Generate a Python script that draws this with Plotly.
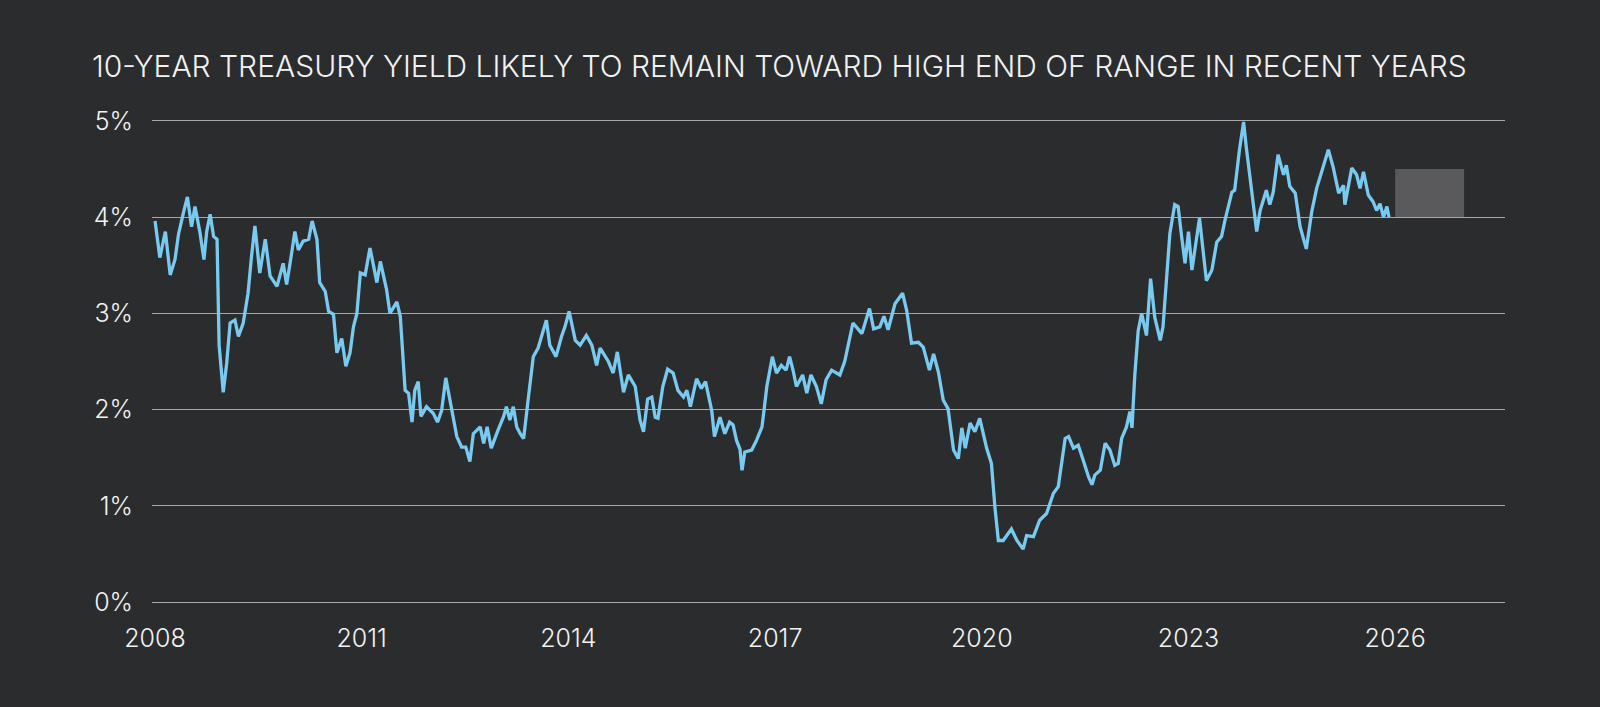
import plotly.graph_objects as go

# 10-year treasury yield (decimal year, percent)
years = [
    2008.00, 2008.07, 2008.15, 2008.22, 2008.29, 2008.34, 2008.41, 2008.47, 2008.53, 2008.58,
    2008.65, 2008.71, 2008.75, 2008.80, 2008.85, 2008.90, 2008.93, 2008.99, 2009.04, 2009.09,
    2009.16, 2009.21, 2009.28, 2009.35, 2009.40, 2009.45, 2009.52, 2009.60, 2009.67, 2009.77,
    2009.86, 2009.91, 2009.96, 2010.03, 2010.08, 2010.15, 2010.23, 2010.28, 2010.35, 2010.39,
    2010.47, 2010.52, 2010.59, 2010.64, 2010.71, 2010.77, 2010.83, 2010.88, 2010.93, 2010.98,
    2011.05, 2011.12, 2011.22, 2011.27, 2011.36, 2011.41, 2011.51, 2011.56, 2011.63, 2011.68,
    2011.73, 2011.77, 2011.82, 2011.86, 2011.94, 2012.04, 2012.10, 2012.16, 2012.22, 2012.31,
    2012.38, 2012.45, 2012.51, 2012.57, 2012.62, 2012.72, 2012.77, 2012.82, 2012.88, 2012.98,
    2013.06, 2013.10, 2013.15, 2013.20, 2013.25, 2013.30, 2013.35, 2013.42, 2013.49, 2013.56,
    2013.64, 2013.68, 2013.73, 2013.82, 2013.90, 2013.95, 2014.01, 2014.10, 2014.17, 2014.26,
    2014.34, 2014.41, 2014.46, 2014.58, 2014.65, 2014.71, 2014.80, 2014.87, 2014.97, 2015.04,
    2015.09, 2015.15, 2015.21, 2015.26, 2015.30, 2015.37, 2015.44, 2015.52, 2015.59, 2015.67,
    2015.72, 2015.77, 2015.86, 2015.93, 2015.99, 2016.08, 2016.12, 2016.20, 2016.27, 2016.34,
    2016.39, 2016.44, 2016.49, 2016.52, 2016.56, 2016.66, 2016.73, 2016.81, 2016.88, 2016.96,
    2017.02, 2017.09, 2017.16, 2017.21, 2017.26, 2017.31, 2017.40, 2017.46, 2017.52, 2017.60,
    2017.67, 2017.74, 2017.82, 2017.94, 2018.01, 2018.13, 2018.26, 2018.37, 2018.43, 2018.52,
    2018.58, 2018.64, 2018.74, 2018.85, 2018.91, 2018.98, 2019.08, 2019.15, 2019.24, 2019.30,
    2019.37, 2019.44, 2019.51, 2019.59, 2019.66, 2019.71, 2019.76, 2019.83, 2019.90, 2019.97,
    2020.07, 2020.14, 2020.19, 2020.24, 2020.31, 2020.43, 2020.51, 2020.60, 2020.65, 2020.75,
    2020.84, 2020.94, 2021.04, 2021.11, 2021.21, 2021.26, 2021.33, 2021.40, 2021.47, 2021.55,
    2021.60, 2021.64, 2021.72, 2021.79, 2021.86, 2021.93, 2021.98, 2022.03, 2022.10, 2022.15,
    2022.18, 2022.22, 2022.27, 2022.32, 2022.39, 2022.45, 2022.51, 2022.59, 2022.63, 2022.73,
    2022.80, 2022.85, 2022.90, 2022.95, 2023.00, 2023.05, 2023.16, 2023.21, 2023.26, 2023.34,
    2023.41, 2023.48, 2023.53, 2023.63, 2023.67, 2023.74, 2023.80, 2023.84, 2023.92, 2023.99,
    2024.04, 2024.13, 2024.18, 2024.23, 2024.30, 2024.38, 2024.42, 2024.47, 2024.55, 2024.62,
    2024.71, 2024.79, 2024.86, 2024.91, 2024.96, 2025.03, 2025.10, 2025.18, 2025.25, 2025.27,
    2025.37, 2025.44, 2025.49, 2025.54, 2025.61, 2025.68, 2025.73, 2025.78, 2025.83, 2025.88,
    2025.91,
]
yields = [
    3.96, 3.58, 3.85, 3.40, 3.56, 3.82, 4.04, 4.21, 3.90, 4.11,
    3.85, 3.56, 3.85, 4.03, 3.80, 3.77, 2.67, 2.18, 2.48, 2.90,
    2.93, 2.76, 2.90, 3.21, 3.59, 3.91, 3.42, 3.77, 3.39, 3.28,
    3.52, 3.30, 3.52, 3.85, 3.66, 3.75, 3.77, 3.96, 3.77, 3.32,
    3.23, 3.02, 2.99, 2.59, 2.74, 2.45, 2.59, 2.86, 3.00, 3.42,
    3.40, 3.68, 3.32, 3.54, 3.25, 3.00, 3.12, 2.97, 2.20, 2.17,
    1.87, 2.20, 2.29, 1.93, 2.03, 1.96, 1.87, 1.99, 2.33, 2.01,
    1.72, 1.61, 1.61, 1.46, 1.75, 1.82, 1.65, 1.82, 1.60, 1.79,
    1.93, 2.03, 1.89, 2.03, 1.82, 1.75, 1.70, 2.13, 2.55, 2.64,
    2.83, 2.93, 2.67, 2.55, 2.76, 2.86, 3.02, 2.72, 2.67, 2.77,
    2.67, 2.46, 2.64, 2.50, 2.38, 2.60, 2.18, 2.36, 2.24, 1.89,
    1.77, 2.11, 2.13, 1.92, 1.91, 2.24, 2.42, 2.38, 2.20, 2.13,
    2.20, 2.03, 2.32, 2.22, 2.29, 1.99, 1.72, 1.92, 1.75, 1.87,
    1.84, 1.68, 1.59, 1.37, 1.56, 1.58, 1.68, 1.82, 2.24, 2.55,
    2.38, 2.46, 2.41, 2.55, 2.41, 2.24, 2.36, 2.17, 2.36, 2.24,
    2.06, 2.31, 2.41, 2.36, 2.50, 2.90, 2.79, 3.05, 2.84, 2.86,
    2.97, 2.83, 3.10, 3.21, 3.03, 2.69, 2.70, 2.65, 2.41, 2.58,
    2.39, 2.10, 2.01, 1.58, 1.49, 1.81, 1.60, 1.86, 1.77, 1.91,
    1.60, 1.44, 0.99, 0.64, 0.64, 0.76, 0.64, 0.55, 0.69, 0.68,
    0.85, 0.92, 1.13, 1.20, 1.70, 1.72, 1.60, 1.63, 1.48, 1.30,
    1.22, 1.32, 1.37, 1.65, 1.58, 1.42, 1.44, 1.70, 1.82, 1.98,
    1.81, 2.35, 2.82, 3.00, 2.77, 3.36, 2.96, 2.72, 2.86, 3.83,
    4.13, 4.11, 3.80, 3.52, 3.85, 3.45, 3.99, 3.66, 3.34, 3.45,
    3.74, 3.80, 3.97, 4.26, 4.28, 4.70, 4.99, 4.72, 4.25, 3.85,
    4.07, 4.28, 4.13, 4.26, 4.65, 4.44, 4.54, 4.32, 4.25, 3.90,
    3.67, 4.06, 4.30, 4.42, 4.56, 4.70, 4.52, 4.25, 4.33, 4.13,
    4.51, 4.44, 4.30, 4.47, 4.23, 4.16, 4.07, 4.14, 4.00, 4.11,
    4.00,
]

# expected range for the coming year
forecast_years = [2026, 2027]
forecast_range = [4.0, 4.5]

tick_years = [2008, 2011, 2014, 2017, 2020, 2023, 2026]
tick_pcts = [0, 1, 2, 3, 4, 5]

BG = "#2b2c2e"
FONT = "Inter, 'Open Sans', Roboto, Arial, sans-serif"

fig = go.Figure()

# forecast box
fig.add_shape(
    type="rect", xref="x", yref="y",
    x0=forecast_years[0], x1=forecast_years[1],
    y0=forecast_range[0], y1=forecast_range[1],
    fillcolor="#5a5a5c", line={"width": 0}, layer="below",
)

fig.add_trace(go.Scatter(
    x=years, y=yields, mode="lines",
    line={"color": "#78caf0", "width": 3.3},
    hoverinfo="skip", showlegend=False,
))

fig.update_layout(
    width=1600, height=707,
    paper_bgcolor=BG, plot_bgcolor=BG,
    margin={"l": 152, "r": 95, "t": 119, "b": 103},
    font={"family": FONT, "color": "#f2f2f2", "size": 25, "weight": 300},
    title={
        "text": "10-YEAR TREASURY YIELD LIKELY TO REMAIN TOWARD HIGH END OF RANGE IN RECENT YEARS",
        "x": 92 / 1600, "xanchor": "left", "xref": "container",
        "y": 1 - 66 / 707, "yanchor": "middle", "yref": "container",
        "font": {"family": FONT, "size": 30, "color": "#f2f2f2", "weight": 300},
    },
)

fig.update_xaxes(
    range=[2007.956, 2027.594],
    tickvals=tick_years, ticktext=[str(y) for y in tick_years],
    showgrid=False, zeroline=False, showline=False, ticks="",
    ticklabelstandoff=17,
)
fig.update_yaxes(
    range=[-0.02, 5.02],
    tickvals=tick_pcts, ticktext=[f"{p}%" for p in tick_pcts],
    showgrid=True, gridcolor="#a8a8a8", gridwidth=1,
    zeroline=False, showline=False, ticks="",
    ticklabelstandoff=18,
)

# no white page margin around the figure, no modebar
fig.write_html(
    "out.html",
    config={"displayModeBar": False},
    post_script="document.body.style.margin='0';document.body.style.background='#2b2c2e';",
)
